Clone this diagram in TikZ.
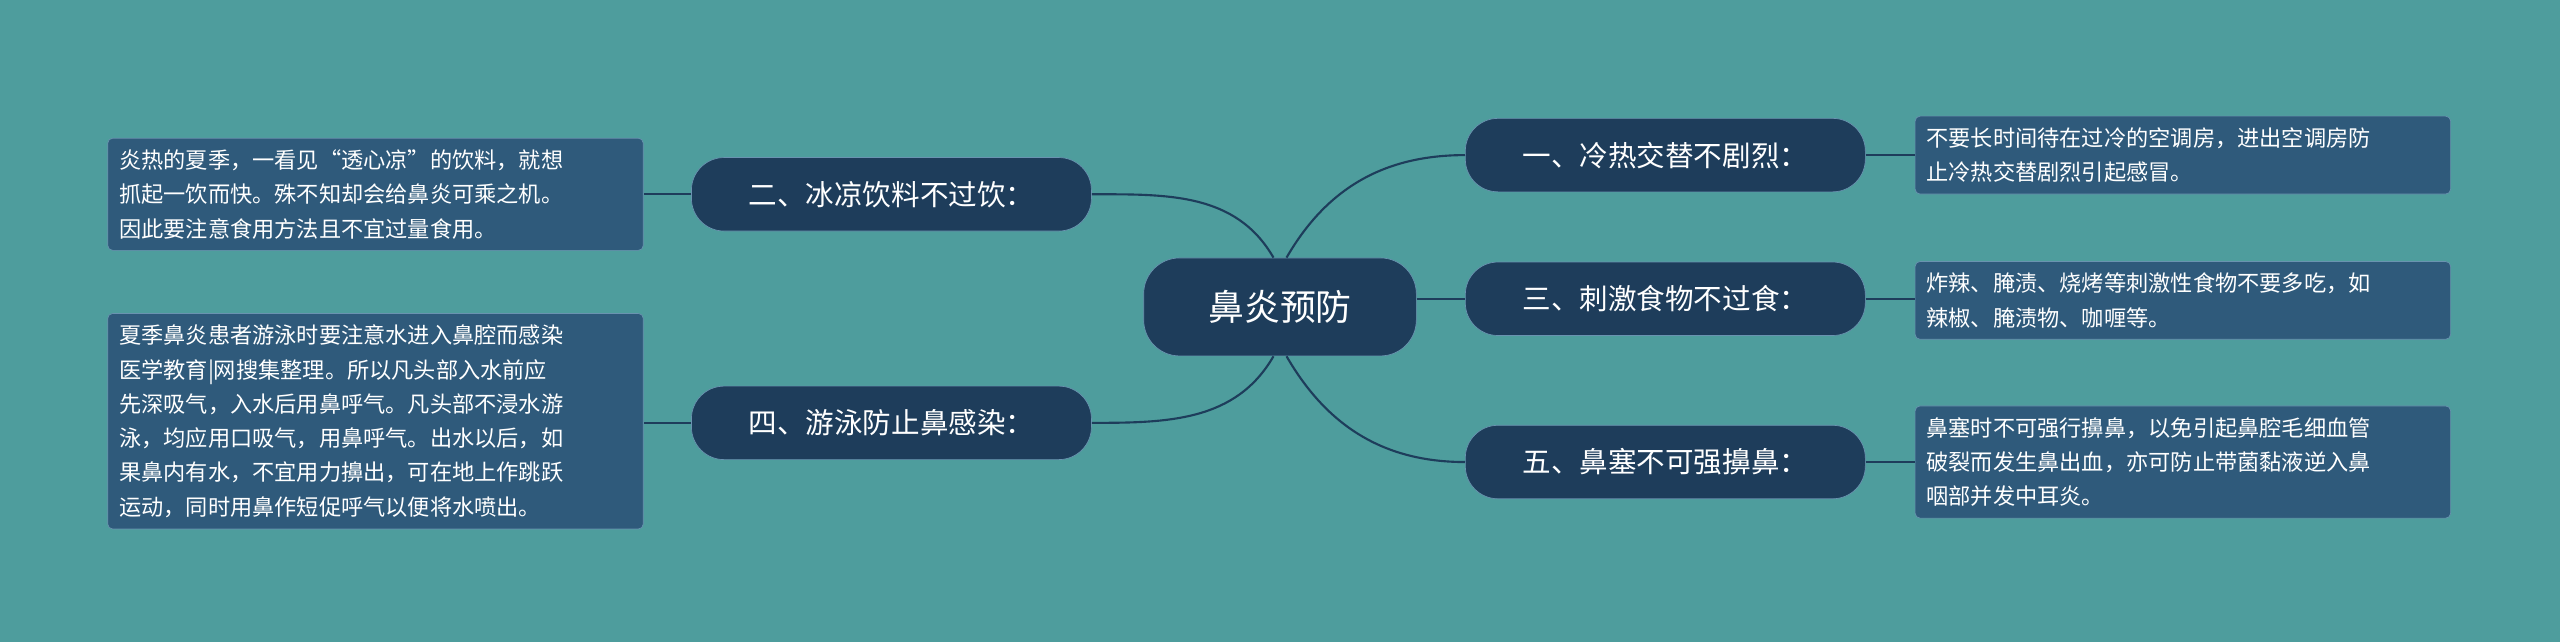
\documentclass[tikz,border=0pt]{standalone}
\usepackage{fontspec}
\setmainfont{Noto Sans CJK SC}
\definecolor{bgteal}{HTML}{4E9D9D}
\definecolor{navy}{HTML}{1E3D5B}
\definecolor{leaffill}{HTML}{2F5A7B}
\definecolor{leafline}{HTML}{6A93B0}
\tikzset{
  topic/.style={rounded corners=22pt, draw=leafline, fill=navy, text=white, font=\fontsize{22}{26}\selectfont, minimum width=167pt, minimum height=60pt},
  branch/.style={rounded corners=20pt, draw=leafline, fill=navy, text=white, font=\fontsize{17.5}{21}\selectfont, minimum width=245pt, minimum height=45pt},
  leaf/.style={rounded corners=3pt, draw=leafline, fill=leaffill, text=white, font=\fontsize{13.6}{21}\selectfont, align=left, text width=314pt, inner sep=7pt},
  link/.style={draw=navy, line width=1.3pt}
}
\begin{document}
\begin{tikzpicture}[x=1pt,y=-1pt]
  \fill[bgteal] (0,0) rectangle (1568,393);
  \useasboundingbox (0,0) rectangle (1568,393);
  \node[topic] (root) at (784,188) {鼻炎预防};
  \node[branch] (b1) at (1020,95) {一、冷热交替不剧烈：};
  \node[branch] (b3) at (1020,183) {三、刺激食物不过食：};
  \node[branch] (b5) at (1020,283) {五、鼻塞不可强擤鼻：};
  \node[branch] (b2) at (546,119) {二、冰凉饮料不过饮：};
  \node[branch] (b4) at (546,259) {四、游泳防止鼻感染：};

  \node[leaf] (l1) at (1337,95) {不要长时间待在过冷的空调房，进出空调房防\\止冷热交替剧烈引起感冒。};
  \node[leaf] (l3) at (1337,184) {炸辣、腌渍、烧烤等刺激性食物不要多吃，如\\辣椒、腌渍物、咖喱等。};
  \node[leaf] (l5) at (1337,283) {鼻塞时不可强行擤鼻，以免引起鼻腔毛细血管\\破裂而发生鼻出血，亦可防止带菌黏液逆入鼻\\咽部并发中耳炎。};
  \node[leaf] (l2) at (230,119) {炎热的夏季，一看见“透心凉”的饮料，就想\\抓起一饮而快。殊不知却会给鼻炎可乘之机。\\因此要注意食用方法且不宜过量食用。};
  \node[leaf] (l4) at (230,258) {夏季鼻炎患者游泳时要注意水进入鼻腔而感染\\医学教育|网搜集整理。所以凡头部入水前应\\先深吸气，入水后用鼻呼气。凡头部不浸水游\\泳，均应用口吸气，用鼻呼气。出水以后，如\\果鼻内有水，不宜用力擤出，可在地上作跳跃\\运动，同时用鼻作短促呼气以便将水喷出。};

  \draw[link] (root.east |- b3.west) -- (b3.west);
  \draw[link] ([xshift=4pt]root.north) to[out=60,in=180] (b1.west);
  \draw[link] ([xshift=4pt]root.south) to[out=-60,in=180] (b5.west);
  \draw[link] ([xshift=-4pt]root.north) to[out=120,in=0] (b2.east);
  \draw[link] ([xshift=-4pt]root.south) to[out=-120,in=0] (b4.east);
  \foreach \b/\l in {b1/l1, b3/l3, b5/l5}
    \draw[link] (\b.east) -- (\l.west |- \b.east);
  \foreach \b/\l in {b2/l2, b4/l4}
    \draw[link] (\b.west) -- (\l.east |- \b.west);
\end{tikzpicture}
\end{document}
